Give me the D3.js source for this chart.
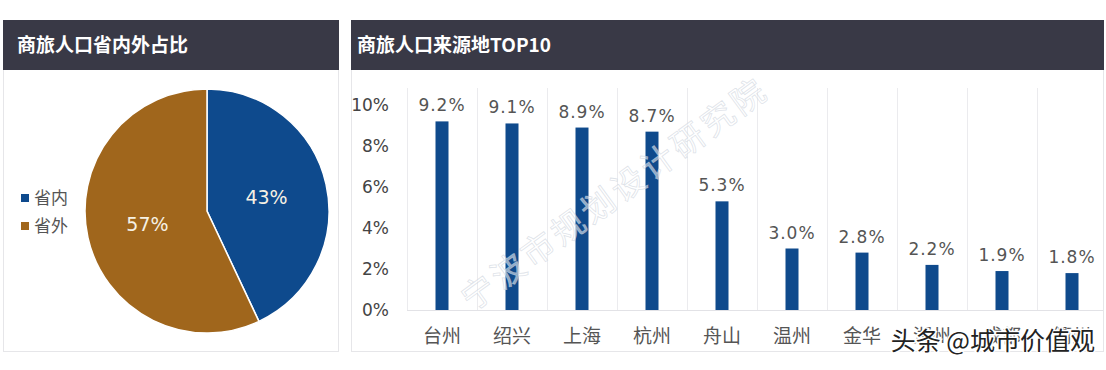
<!DOCTYPE html>
<html><head><meta charset="utf-8">
<script src="https://cdn.jsdelivr.net/npm/d3@7"></script>
<style>html,body{margin:0;padding:0;background:#fff;}svg{display:block;}</style>
</head><body>
<svg id="c" width="1106" height="370"></svg>
<script>
const pieLabels = ["省内", "省外"];
const pieValues = [43, 57];
const pieColors = ["#0e4a8d", "#a0661c"];
const categories = ["台州", "绍兴", "上海", "杭州", "舟山", "温州", "金华", "湖州", "成都", "衢州"];
const barValues = [9.2, 9.1, 8.9, 8.7, 5.3, 3.0, 2.8, 2.2, 1.9, 1.8];
const yTicks = [0, 2, 4, 6, 8, 10];
const leftTitle = "商旅人口省内外占比";
const rightTitle = "商旅人口来源地TOP10";

const svg = d3.select("#c");
const cjk = "'Noto Sans CJK SC', 'Noto Sans', sans-serif";
const num = "'DejaVu Sans', 'Noto Sans', sans-serif";

// panels
svg.append("rect").attr("x", 3.5).attr("y", 20.5).attr("width", 335).attr("height", 331).attr("fill", "#fff").attr("stroke", "#e6e6e9");
svg.append("rect").attr("x", 351.5).attr("y", 20.5).attr("width", 752).attr("height", 331).attr("fill", "#fff").attr("stroke", "#e6e6e9");
svg.append("rect").attr("x", 3).attr("y", 20).attr("width", 336).attr("height", 50).attr("fill", "#393946");
svg.append("rect").attr("x", 351).attr("y", 20).attr("width", 753).attr("height", 50).attr("fill", "#393946");
svg.append("text").attr("x", 17).attr("y", 52).attr("fill", "#fff").attr("font-family", cjk).attr("font-weight", "bold").attr("font-size", 19).text(leftTitle);
svg.append("text").attr("x", 357).attr("y", 52).attr("fill", "#fff").attr("font-family", cjk).attr("font-weight", "bold").attr("font-size", 19).text(rightTitle);

// pie
const cx = 207, cy = 211, R = 122;
const pie = d3.pie().sort(null).value(d => d)(pieValues);
const arc = d3.arc().innerRadius(0).outerRadius(R);
const g = svg.append("g").attr("transform", `translate(${cx},${cy})`);
g.selectAll("path").data(pie).join("path")
  .attr("d", arc).attr("fill", (d, i) => pieColors[i]).attr("stroke", "#fff").attr("stroke-width", 1.5);
const labArc = d3.arc().innerRadius(R * 0.5).outerRadius(R * 0.5);
g.selectAll("text").data(pie).join("text")
  .attr("transform", d => `translate(${labArc.centroid(d)})`)
  .attr("text-anchor", "middle").attr("dy", "0.35em")
  .attr("fill", "#f6f1e4").attr("font-family", num).attr("font-size", 19)
  .text(d => d.data + "%");

// legend
const lg = svg.append("g");
pieLabels.forEach((l, i) => {
  const yy = 198 + i * 28;
  lg.append("rect").attr("x", 21).attr("y", yy - 4).attr("width", 8).attr("height", 8).attr("fill", pieColors[i]);
  lg.append("text").attr("x", 34).attr("y", yy).attr("dy", "0.36em").attr("fill", "#555").attr("font-family", cjk).attr("font-size", 17).text(l);
});

// bar chart
const x = d3.scaleBand().domain(categories).range([407, 1107]).padding(0);
const y = d3.scaleLinear().domain([0, 10]).range([310, 105]);
const bw = 13;
svg.append("g").selectAll("line").data(categories).join("line")
  .attr("x1", d => x(d) + 0.5).attr("x2", d => x(d) + 0.5)
  .attr("y1", 88).attr("y2", 310).attr("stroke", "#ebebee");
svg.append("line").attr("x1", 407).attr("x2", 1103).attr("y1", 310.5).attr("y2", 310.5).attr("stroke", "#e2e2e6");

const yAxis = d3.axisLeft(y).tickValues(yTicks).tickFormat(d => d + "%").tickSize(0).tickPadding(0);
const ya = svg.append("g").attr("transform", "translate(389,0)").call(yAxis);
ya.select(".domain").remove();
ya.selectAll("text").attr("font-family", num).attr("font-size", 17).attr("fill", "#444");

// bars
svg.append("g").selectAll("rect").data(barValues).join("rect")
  .attr("x", (d, i) => x(categories[i]) + x.bandwidth() / 2 - bw / 2)
  .attr("y", d => y(d)).attr("width", bw).attr("height", d => y(0) - y(d))
  .attr("fill", "#0f4a8c");

// watermark diagonal (semi-transparent, over bars)
svg.append("text").attr("transform", "translate(472,312) rotate(-36)")
  .attr("font-family", cjk).attr("font-size", 33).attr("fill", "#ffffff").attr("fill-opacity", 0.55)
  .attr("stroke", "#c9d0da").attr("stroke-opacity", 0.6).attr("stroke-width", 0.8)
  .attr("letter-spacing", 4).text("宁波市规划设计研究院");

svg.append("g").selectAll("text").data(barValues).join("text")
  .attr("x", (d, i) => x(categories[i]) + x.bandwidth() / 2)
  .attr("y", d => y(d) - 10).attr("text-anchor", "middle")
  .attr("font-family", num).attr("font-size", 17).attr("fill", "#555").attr("letter-spacing", 1)
  .text(d => d.toFixed(1) + "%");

const xAxis = d3.axisBottom(x).tickSize(0).tickPadding(0);
const xa = svg.append("g").attr("transform", "translate(0,330)").call(xAxis);
xa.select(".domain").remove();
xa.selectAll("text").attr("font-family", cjk).attr("font-size", 19).attr("fill", "#555").attr("dy", "0.7em");

// bottom-right watermark
svg.append("text").attr("x", 1095).attr("y", 350).attr("text-anchor", "end")
  .attr("font-family", cjk).attr("font-size", 25).attr("fill", "#222")
  .attr("stroke", "#fff").attr("stroke-width", 3).attr("paint-order", "stroke")
  .text("头条 @城市价值观");
</script>
</body></html>
